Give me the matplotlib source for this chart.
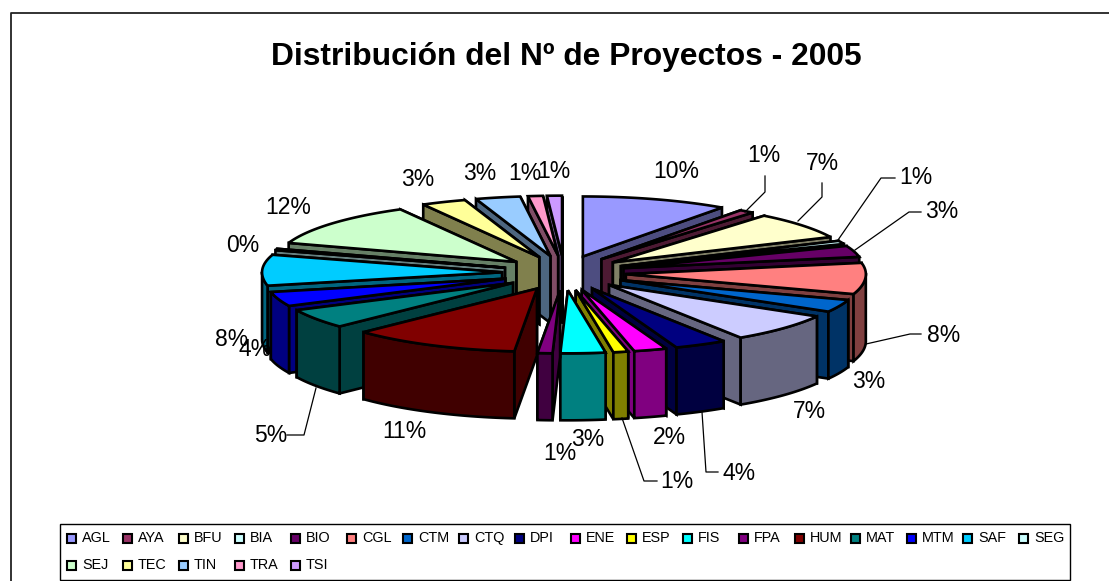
import numpy as np
import matplotlib
matplotlib.use('Agg')
import matplotlib.pyplot as plt
from matplotlib.patches import Polygon, Rectangle

plt.rcParams['font.family'] = ['Liberation Sans', 'DejaVu Sans']

categories = ['AGL', 'AYA', 'BFU', 'BIA', 'BIO', 'CGL', 'CTM', 'CTQ', 'DPI', 'ENE', 'ESP', 'FIS',
              'FPA', 'HUM', 'MAT', 'MTM', 'SAF', 'SEG', 'SEJ', 'TEC', 'TIN', 'TRA', 'TSI']
values = [9.8, 1.0, 7.2, 0.9, 3.0, 8.1, 3.2, 7.4, 3.5, 2.2, 1.0, 3.0,
          1.0, 11.3, 5.0, 3.7, 8.1, 0.4, 11.8, 3.0, 3.0, 1.0, 1.0]
labels = ['10%', '1%', '7%', '1%', '3%', '8%', '3%', '7%', '4%', '2%', '1%', '3%',
          '1%', '11%', '5%', '4%', '8%', '0%', '12%', '3%', '3%', '1%', '1%']
colors = ['#9999FF', '#993366', '#FFFFCC', '#CCFFFF', '#660066', '#FF8080', '#0066CC', '#CCCCFF',
          '#000080', '#FF00FF', '#FFFF00', '#00FFFF', '#800080', '#800000', '#008080', '#0000FF',
          '#00CCFF', '#CCFFFF', '#CCFFCC', '#FFFF99', '#99CCFF', '#FF99CC', '#CC99FF']
label_pos = [(676, 172), (764, 155), (822, 163), (916, 178), (942, 212), (944, 335), (869, 381), (809, 411),
             (739, 473), (669, 437), (677, 482), (588, 439), (560, 454), (404, 432), (271, 436), (255, 349),
             (232, 340), (243, 246), (288, 208), (418, 180), (480, 174), (525, 173), (554, 172)]
# leader lines, pixel positions
leaders = [[(765, 176), (765, 192), (745, 212)],
           [(822, 183), (822, 197), (798, 221)],
           [(895, 178), (881, 178), (838, 240)],
           [(921, 212), (909, 212), (855, 250)],
           [(921, 334), (910, 334), (866, 344)],
           [(718, 472), (706, 472), (702, 412)],
           [(657, 481), (644, 481), (622, 418)],
           [(287, 435), (304, 435), (316, 388)]]

cx, cy = 564, 273
rx = 240
ry_back, ry_front = 60, 63
explode = 62
squash = 0.28
height = 67

fig = plt.figure(figsize=(11.09, 5.81), dpi=100)
ax = fig.add_axes([0, 0, 1, 1])
ax.set_xlim(0, 1109)
ax.set_ylim(581, 0)
ax.axis('off')

# chart frame runs off the image on the right and at the bottom
ax.plot([1109, 10.5, 10.5], [12.5, 12.5, 581], color='#222222', lw=1.3)
ax.text(566, 57, 'Distribución del Nº de Proyectos - 2005', ha='center', va='center',
        fontsize=22.9, fontweight='bold')


def dark(c):
    r, g, b = matplotlib.colors.to_rgb(c)
    return (r / 2, g / 2, b / 2)


def outer(t, ox, oy):
    ry = np.where(np.cos(t) > 0, ry_back, ry_front)
    return np.column_stack([ox + rx * np.sin(t), oy - ry * np.cos(t)])


total = sum(values)
edges = np.radians(np.cumsum([0] + values) / total * 360)
slices = []
for i in range(len(values)):
    mid = (edges[i] + edges[i + 1]) / 2
    ox = cx + explode * np.sin(mid)
    oy = cy - explode * squash * np.cos(mid)
    slices.append((-np.cos(mid), i, ox, oy))

# back slices first so the front ones cover them
for depth, i, ox, oy in sorted(slices):
    t = np.linspace(edges[i], edges[i + 1], 40)
    arc = outer(t, ox, oy)
    apex = np.array([ox, oy])
    down = np.array([0, height])
    side = dark(colors[i])
    walls = [np.array([apex, arc[0], arc[0] + down, apex + down]),
             np.array([apex, arc[-1], arc[-1] + down, apex + down])]
    walls.sort(key=lambda w: w[:, 1].mean())
    for w in walls:
        ax.add_patch(Polygon(w, fc=side, ec='black', lw=1.9, joinstyle='miter'))
    front = arc[np.cos(t) <= 0.02]
    if len(front) > 1:
        ax.add_patch(Polygon(np.vstack([front, front[::-1] + down]), fc=side, ec='black', lw=1.9))
    ax.add_patch(Polygon(np.vstack([apex, arc]), fc=colors[i], ec='black', lw=1.9, joinstyle='miter'))

for line in leaders:
    xs, ys = zip(*line)
    ax.plot(xs, ys, color='black', lw=0.9)
for lab, (x, y) in zip(labels, label_pos):
    ax.text(x, y, lab, ha='center', va='center', fontsize=16.5)

# legend, filled row by row
ax.add_patch(Rectangle((60, 524), 1010, 56, fc='white', ec='black', lw=1))
for i, name in enumerate(categories):
    row, col = divmod(i, 18)
    x = 67 + col * 56
    y = 538 + row * 27
    ax.add_patch(Rectangle((x, y - 4), 8.5, 8.5, fc=colors[i], ec='black', lw=1.5))
    ax.text(x + 15, y, name, ha='left', va='center', fontsize=10.4)

fig.savefig('out.png', dpi=100)
plt.close(fig)
